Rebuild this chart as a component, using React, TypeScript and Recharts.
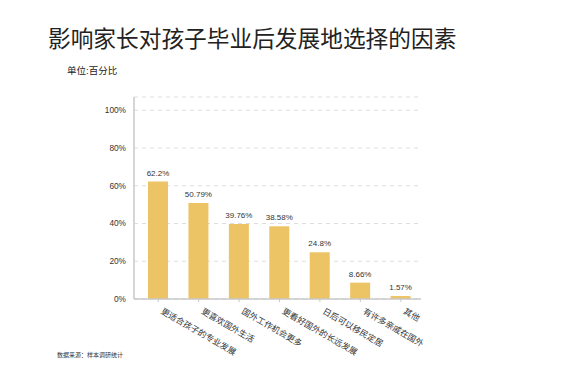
import React from 'react';
import { BarChart, Bar, XAxis, YAxis, CartesianGrid, LabelList } from 'recharts';

const categories = [
  '更适合孩子的专业发展',
  '更喜欢国外生活',
  '国外工作机会更多',
  '更看好国外的长远发展',
  '日后可以移民定居',
  '有许多亲戚在国外',
  '其他',
];
const shares = [62.2, 50.79, 39.76, 38.58, 24.8, 8.66, 1.57];
const yTicks = [0, 20, 40, 60, 80, 100];

const FONT = '"Liberation Sans", "Noto Sans CJK SC", sans-serif';
const BAR_COLOR = '#ecc465';

const data = categories.map((name, i) => ({ name, value: shares[i] }));

const AngledTick = (props: any) => {
  const { x, y, payload } = props;
  return (
    <g transform={`translate(${x + 2},${y + 9})`}>
      <text transform="rotate(30)" textAnchor="start" fontSize={8.5} fill="#333" fontFamily={FONT}>
        {payload.value}
      </text>
    </g>
  );
};

const App: React.FC = () => {
  return (
    <div style={{ position: 'absolute', left: 0, top: 0, width: 565, height: 386, background: '#fff', fontFamily: FONT }}>
      <div style={{ position: 'absolute', left: 0, top: 0 }}>
        <BarChart
          width={565}
          height={386}
          data={data}
          margin={{ top: 97, right: 144, bottom: 0, left: 0 }}
        >
          <CartesianGrid vertical={false} stroke="#dddddd" strokeDasharray="4 4" />
          <XAxis
            dataKey="name"
            interval={0}
            height={87}
            padding={{ left: 4, right: 0 }}
            axisLine={{ stroke: '#c8c8c8', strokeWidth: 1.5 }}
            tickLine={{ stroke: '#c8c8c8' }}
            tickSize={3}
            tick={<AngledTick />}
          />
          <YAxis
            width={134}
            domain={[0, 107]}
            ticks={yTicks}
            tickFormatter={(v: number) => `${v}%`}
            axisLine={{ stroke: '#c8c8c8', strokeWidth: 1.5 }}
            tickLine={false}
            tickMargin={2}
            tick={{ fontSize: 8.3, fill: '#333', fontFamily: FONT }}
          />
          <Bar dataKey="value" fill={BAR_COLOR} barSize={20} isAnimationActive={false}>
            <LabelList
              dataKey="value"
              position="top"
              offset={6}
              formatter={(v: any) => `${v}%`}
              fontSize={8}
              fill="#333"
              fontFamily={FONT}
            />
          </Bar>
        </BarChart>
      </div>
      <div style={{ position: 'absolute', left: 48, top: 28, fontSize: 22.7, color: '#222', whiteSpace: 'nowrap', lineHeight: 1 }}>
        影响家长对孩子毕业后发展地选择的因素
      </div>
      <div style={{ position: 'absolute', left: 67, top: 66, fontSize: 9.5, color: '#222', whiteSpace: 'nowrap', lineHeight: 1 }}>
        单位:百分比
      </div>
      <div style={{ position: 'absolute', left: 57, top: 352, fontSize: 6, color: '#333', whiteSpace: 'nowrap', lineHeight: 1 }}>
        数据来源：样本调研统计
      </div>
    </div>
  );
};

export default App;
